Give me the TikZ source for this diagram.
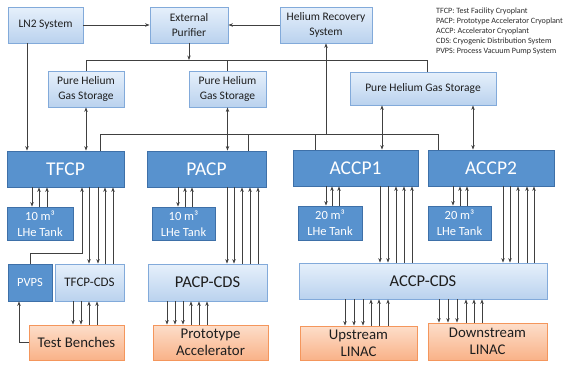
\documentclass[tikz,border=0pt]{standalone}
\usepackage{fontspec}
\setmainfont{Carlito}
\usetikzlibrary{arrows.meta,shadows}

\definecolor{plantfill}{RGB}{88,146,206}
\definecolor{plantdraw}{RGB}{62,112,168}
\definecolor{lightA}{RGB}{230,240,251}
\definecolor{lightB}{RGB}{186,210,238}
\definecolor{lightdraw}{RGB}{130,170,218}
\definecolor{orgA}{RGB}{253,222,202}
\definecolor{orgB}{RGB}{249,178,136}
\definecolor{orgdraw}{RGB}{244,150,92}
\definecolor{linec}{RGB}{64,64,64}
\definecolor{legc}{RGB}{45,45,45}
\definecolor{txtc}{RGB}{30,30,30}

\begin{document}
\begin{tikzpicture}[x=1pt,y=-1pt,
  wh/.style 2 args={minimum width=#1pt, minimum height=#2pt},
  box/.style={rectangle, inner sep=0pt, align=center, line width=0.8pt,
    general shadow={fill=black, opacity=0.15, shadow xshift=1.2pt, shadow yshift=-1.2pt}},
  light/.style={box, draw=lightdraw, top color=lightA, bottom color=lightB, text=txtc,
    font=\fontsize{11.5}{14.5}\selectfont},
  lightbig/.style={light, font=\fontsize{16.5}{19}\selectfont},
  lightmid/.style={light, font=\fontsize{13}{16}\selectfont},
  plant/.style={box, draw=plantdraw, fill=plantfill, text=white,
    font=\fontsize{19.5}{22}\selectfont},
  tank/.style={box, draw=plantdraw, fill=plantfill, text=white,
    font=\fontsize{12.5}{16}\selectfont},
  user/.style={box, draw=orgdraw, top color=orgA, bottom color=orgB, text=txtc,
    font=\fontsize{14.8}{17}\selectfont},
  fl/.style={draw=linec, line width=0.8pt},
  a/.style={fl, -{Stealth[length=4.5pt,width=3.4pt]}},
  ra/.style={fl, {Stealth[length=4.5pt,width=3.4pt]}-},
  ba/.style={fl, {Stealth[length=4.5pt,width=3.4pt]}-{Stealth[length=4.5pt,width=3.4pt]}}
]
\fill[white] (0,0) rectangle (567,364);
\useasboundingbox (0,0) rectangle (567,364);

% top row: supply and recovery systems
\node[light, wh={75}{36}] (ln2) at (45.5,25) {LN2 System};
\node[light, wh={78}{36}] (pur) at (189,25) {External\\Purifier};
\node[light, wh={92}{36}] (hrs) at (326,25) {Helium Recovery\\System};

% legend
\node[anchor=north west, inner sep=0pt, align=left, text=legc,
  font=\fontsize{8.1}{10}\selectfont] (legend) at (436,8)
  {TFCP: Test Facility Cryoplant\\
   PACP: Prototype Accelerator Cryoplant\\
   ACCP: Accelerator Cryoplant\\
   CDS: Cryogenic Distribution System\\
   PVPS: Process Vacuum Pump System};

% gas storage
\node[light, wh={76}{36}] (ph1) at (86,89) {Pure Helium\\Gas Storage};
\node[light, wh={77}{36}] (ph2) at (227.5,89) {Pure Helium\\Gas Storage};
\node[light, wh={146}{33}] (ph3) at (423,88.5) {Pure Helium Gas Storage};

% cryoplants
\node[plant, wh={117}{36}] (tfcp) at (65.5,169) {TFCP};
\node[plant, wh={119}{36}] (pacp) at (206.5,169) {PACP};
\node[plant, wh={125}{36}] (accp1) at (355.5,168) {ACCP1};
\node[plant, wh={126}{36}] (accp2) at (491,168) {ACCP2};

% LHe tanks
\node[tank, wh={66}{33}] (t1) at (40,223.5) {10 m³\\LHe Tank};
\node[tank, wh={63}{33}] (t2) at (183.5,223.5) {10 m³\\LHe Tank};
\node[tank, wh={64}{34}] (t3) at (330,223) {20 m³\\LHe Tank};
\node[tank, wh={63}{34}] (t4) at (459.5,223) {20 m³\\LHe Tank};

% distribution systems
\node[tank, wh={44}{37}, font=\fontsize{12.5}{15}\selectfont] (pvps) at (30,282.5) {PVPS};
\node[lightmid, wh={69}{37}] (tcds) at (89.5,282.5) {TFCP-CDS};
\node[lightbig, wh={119}{37}] (pcds) at (207.5,282.5) {PACP-CDS};
\node[lightbig, wh={248}{36}] (acds) at (423,281) {ACCP-CDS};

% users
\node[user, wh={95}{35}] (tb) at (76.5,342.5) {Test Benches};
\node[user, wh={115}{35}] (proto) at (210.5,342.5) {Prototype\\Accelerator};
\node[user, wh={117}{34}] (ups) at (358.5,343) {Upstream\\LINAC};
\node[user, wh={119}{37}] (dns) at (487.5,341.5) {Downstream\\LINAC};

% bus corners
\coordinate (sbL) at (86,60);
\coordinate (sbR) at (427,60);
\coordinate (rbL) at (100,134);
\coordinate (rbR) at (438,134);
\coordinate (pv) at (82,253);

% top row links
\draw[a] (ln2) -- (pur);
\draw[a] (hrs) -- (pur);
\draw[a] (pur.south) -- (pur.south |- sbL);

% supply bus to gas storage
\draw[fl] (ph1.north) -- (sbL) -- (sbR) -- (ph3.north -| sbR);
\draw[fl] (ph2.north) -- (ph2.north |- sbL);

% return bus to helium recovery
\draw[fl] (tfcp.north -| rbL) -- (rbL) -- (rbR) -- (accp2.north -| rbR);
\draw[fl] (pacp.north -| 248,0) -- (rbL -| 248,0);
\draw[fl] (accp1.north -| 315,0) -- (rbL -| 315,0);
\draw[a] (rbL -| hrs.south) -- (hrs.south);

% feeds into cryoplants
\draw[a] (ln2.south -| 27,0) -- (tfcp.north -| 27,0);
\draw[ba] (ph1.south) -- (tfcp.north -| ph1.south);
\draw[ba] (ph2.south) -- (pacp.north -| ph2.south);
\draw[ba] (ph3.south -| 382,0) -- (accp1.north -| 382,0);
\draw[ba] (ph3.south -| 473,0) -- (accp2.north -| 473,0);

% cryoplant <-> LHe tank
\draw[a] (tfcp.south -| 32,0) -- (t1.north -| 32,0);
\foreach \x in {39,47} \draw[ra] (tfcp.south -| \x,0) -- (t1.north -| \x,0);
\draw[a] (pacp.south -| 178,0) -- (t2.north -| 178,0);
\foreach \x in {185,192} \draw[ra] (pacp.south -| \x,0) -- (t2.north -| \x,0);
\draw[a] (accp1.south -| 326,0) -- (t3.north -| 326,0);
\foreach \x in {332,339} \draw[ra] (accp1.south -| \x,0) -- (t3.north -| \x,0);
\draw[a] (accp2.south -| 453,0) -- (t4.north -| 453,0);
\foreach \x in {460,467} \draw[ra] (accp2.south -| \x,0) -- (t4.north -| \x,0);

% TFCP <-> PVPS and TFCP-CDS
\draw[ra] (tfcp.south -| pv) -- (pv) -| (pvps.north);
\foreach \x in {89,98} \draw[a] (tfcp.south -| \x,0) -- (tcds.north -| \x,0);
\foreach \x in {105,113} \draw[ra] (tfcp.south -| \x,0) -- (tcds.north -| \x,0);

% PACP <-> PACP-CDS
\foreach \x in {227,234} \draw[a] (pacp.south -| \x,0) -- (pcds.north -| \x,0);
\foreach \x in {242,250,258} \draw[ra] (pacp.south -| \x,0) -- (pcds.north -| \x,0);

% ACCP <-> ACCP-CDS
\foreach \x in {380,388} \draw[a] (accp1.south -| \x,0) -- (acds.north -| \x,0);
\foreach \x in {396,404,412} \draw[ra] (accp1.south -| \x,0) -- (acds.north -| \x,0);
\foreach \x in {503,510} \draw[a] (accp2.south -| \x,0) -- (acds.north -| \x,0);
\foreach \x in {518,527,534} \draw[ra] (accp2.south -| \x,0) -- (acds.north -| \x,0);

% CDS <-> users
\foreach \x in {73,81} \draw[a] (tcds.south -| \x,0) -- (tb.north -| \x,0);
\foreach \x in {89,97} \draw[ra] (tcds.south -| \x,0) -- (tb.north -| \x,0);
\draw[a] (tb.west) -| (pvps.south -| 19,0);
\foreach \x in {167,175,183} \draw[a] (pcds.south -| \x,0) -- (proto.north -| \x,0);
\foreach \x in {191,199,207} \draw[ra] (pcds.south -| \x,0) -- (proto.north -| \x,0);
\foreach \x in {345,354,363} \draw[a] (acds.south -| \x,0) -- (ups.north -| \x,0);
\foreach \x in {371,379,388} \draw[ra] (acds.south -| \x,0) -- (ups.north -| \x,0);
\foreach \x in {439,448,457} \draw[a] (acds.south -| \x,0) -- (dns.north -| \x,0);
\foreach \x in {466,474,482} \draw[ra] (acds.south -| \x,0) -- (dns.north -| \x,0);
\end{tikzpicture}
\end{document}
